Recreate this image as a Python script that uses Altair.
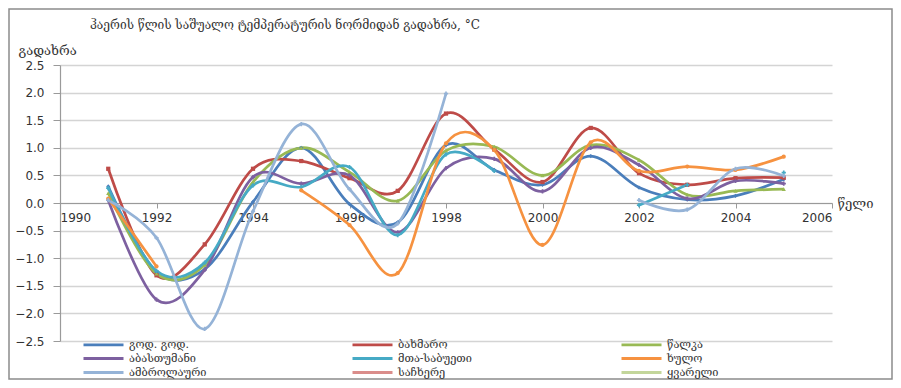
import altair as alt
import pandas as pd

years = list(range(1991, 2006))
names = ["გოდ. გოდ.", "ბახმარო", "წალკა", "აბასთუმანი", "მთა-საბუეთი",
         "ხულო", "ამბროლაური", "საჩხერე", "ყვარელი"]
colors = ["#4A7EBB", "#BE4B48", "#98B954", "#7D60A0", "#46AAC5",
          "#F69240", "#95B3D7", "#DA8D8B", "#C3D69B"]
shapes = ["diamond", "square", "triangle-up", "cross", "cross",
          "circle", "cross", "circle", "circle"]

N = None
god   = [0.30, -1.25, -1.20, 0.02, 1.00, -0.02, -0.35, 1.05, 0.60, 0.33, 0.85, 0.28, 0.06, 0.13, 0.43]
bakh  = [0.62, -1.31, -0.75, 0.62, 0.76, 0.45, 0.22, 1.62, 0.97, 0.38, 1.36, 0.54, 0.33, 0.45, 0.46]
tsal  = [0.18, -1.28, -1.12, 0.38, 1.00, 0.56, 0.04, 0.95, 1.02, 0.50, 1.05, 0.78, 0.15, 0.22, 0.25]
abas  = [0.05, -1.75, -1.21, 0.47, 0.35, 0.50, -0.53, 0.63, 0.80, 0.21, 1.00, 0.69, 0.08, 0.40, 0.35]
mta   = [0.27, -1.23, -1.08, 0.32, 0.29, 0.65, -0.58, 0.88, 0.58, N, N, -0.04, 0.33, N, 0.55]
khulo = [0.08, -1.15, N, N, 0.23, -0.40, -1.27, 1.08, 0.96, -0.76, 1.10, 0.58, 0.66, 0.60, 0.84]
ambr  = [0.05, -0.63, -2.28, -0.15, 1.43, 0.25, -0.37, 1.98, N, N, N, 0.05, -0.12, 0.62, 0.49]
sach  = [N] * 15
kvar  = [N] * 15
series = [god, bakh, tsal, abas, mta, khulo, ambr, sach, kvar]

x_ticks = [1990, 1992, 1994, 1996, 1998, 2000, 2002, 2004, 2006]
y_ticks = [-2.5, -2.0, -1.5, -1.0, -0.5, 0.0, 0.5, 1.0, 1.5, 2.0, 2.5]

title_text = "ჰაერის წლის საშუალო   ტემპერატურის ნორმიდან გადახრა, °C"

rows = []
for name, vals in zip(names, series):
    seg = 0
    gap = True
    for yr, v in zip(years, vals):
        if v is None:
            gap = True
            continue
        if gap:
            seg += 1
            gap = False
        rows.append({"year": yr, "value": v, "series": name, "mk": name,
                     "seg": f"{name}-{seg}"})
df = pd.DataFrame(rows)

W, H = 772, 276
GEO = "DejaVu Serif"
NUM = "DejaVu Sans"

xs = alt.Scale(domain=[1990, 2006], nice=False)
ys = alt.Scale(domain=[-2.5, 2.5], nice=False)

x_axis = alt.Axis(values=x_ticks, format="d", offset=-138, tickSize=5,
                  tickColor="#9a9a9a", domainColor="#9a9a9a", domainWidth=1.2,
                  labelFont=NUM, labelFontSize=12, labelColor="#333333",
                  labelPadding=4, grid=False, labelOverlap=False,
                  title="წელი", titleX=W + 5, titleY=0, titleAlign="left",
                  titleBaseline="middle", titleFont=GEO, titleFontSize=13,
                  titleFontWeight="normal", titleColor="#333333", titleAngle=0)
y_axis = alt.Axis(values=y_ticks, format=".1f",
                  tickSize=7, tickColor="#9a9a9a", domainColor="#9a9a9a", domainWidth=1.2,
                  gridColor="#d4d4d4", gridWidth=1.3, labelOverlap=False,
                  labelFont=NUM, labelFontSize=12, labelColor="#333333", labelPadding=9,
                  title="გადახრა", titleX=-42, titleY=-15, titleAlign="left",
                  titleBaseline="middle", titleFont=GEO, titleFontSize=13,
                  titleFontWeight="normal", titleColor="#333333", titleAngle=0)

legend = alt.Legend(orient="none", legendX=38, legendY=274, columns=3,
                    direction="horizontal", symbolType="M-5,0L5,0", symbolSize=64,
                    symbolStrokeWidth=2.8, labelFont=GEO, labelFontSize=11,
                    labelColor="#333333", rowPadding=1, columnPadding=139,
                    gridAlign="all", title=None, padding=0, labelOffset=20,
                    labelLimit=300)

base = alt.Chart(df)

lines = base.mark_line(interpolate="cardinal", strokeWidth=2.7).encode(
    x=alt.X("year:Q", scale=xs, axis=x_axis),
    y=alt.Y("value:Q", scale=ys, axis=y_axis),
    color=alt.Color("series:N", scale=alt.Scale(domain=names, range=colors), legend=legend),
    detail="seg:N",
)

points = base.mark_point(filled=True, size=18, opacity=1).encode(
    x=alt.X("year:Q", scale=xs, axis=x_axis),
    y=alt.Y("value:Q", scale=ys, axis=y_axis),
    color=alt.Color("mk:N", scale=alt.Scale(domain=names, range=colors), legend=None),
    shape=alt.Shape("mk:N", scale=alt.Scale(domain=names, range=shapes), legend=None),
)

title = alt.Chart(pd.DataFrame({"t": [title_text]})).mark_text(
    align="left", baseline="middle", font=GEO, fontSize=12, color="#333333"
).encode(x=alt.value(30), y=alt.value(-40), text="t:N")

border = alt.Chart(pd.DataFrame({"b": [0]})).mark_rect(
    fillOpacity=0, stroke="#8c8c8c", strokeWidth=1.5
).encode(x=alt.value(-51), x2=alt.value(832), y=alt.value(-56), y2=alt.value(314))

chart = alt.layer(border, lines, points, title).resolve_scale(
    color="independent", shape="independent"
).resolve_legend(color="independent", shape="independent").properties(
    width=W, height=H, background="white",
    autosize=alt.AutoSizeParams(type="none"),
    padding={"left": 52, "top": 57, "right": 61, "bottom": 39},
).configure_view(stroke=None).configure_axis(labelOverlap=False)

chart.save("out.html", embed_options={"renderer": "svg", "actions": False})
